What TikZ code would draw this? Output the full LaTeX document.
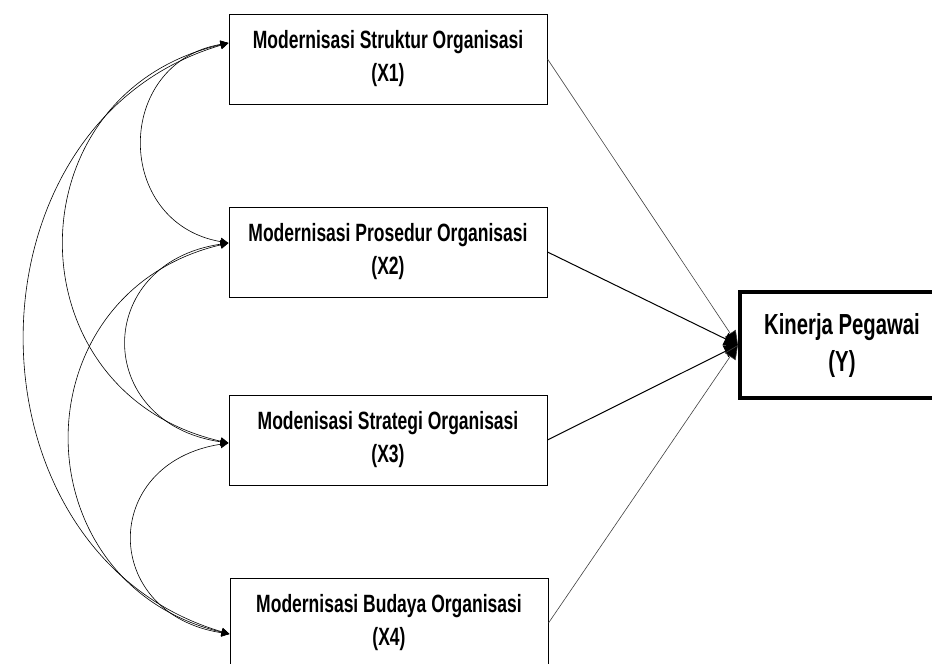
\documentclass[tikz,border=0pt]{standalone}
\usepackage{fontspec}
\setmainfont{Liberation Sans}[FakeStretch=0.7]
\usetikzlibrary{arrows.meta}

\begin{document}
\begin{tikzpicture}[x = 1pt, y = -1pt,
    varbox/.style = {draw, line width = 1pt, minimum width = 318pt, minimum height = 90pt,
        inner sep = 0pt, align = center, font = \fontsize{25}{33}\selectfont\bfseries},
    ybox/.style = {draw, line width = 4pt, minimum width = 204pt, minimum height = 106pt,
        inner sep = 0pt, align = center, font = \fontsize{29}{37}\selectfont\bfseries},
    corr/.style = {line width = 0.6pt,
        {Triangle[length = 8pt, width = 8pt]}-{Triangle[length = 8pt, width = 8pt]}},
    effect/.style = {line width = 0.6pt, black!75, -{Triangle[length = 14pt, width = 13pt, fill = black]}}]
    \clip (0,0) rectangle (932,664);
    \node[varbox] (X1) at (388,59) {Modernisasi Struktur Organisasi\\(X1)};
    \node[varbox] (X2) at (388,252) {Modernisasi Prosedur Organisasi\\(X2)};
    \node[varbox] (X3) at (388,440) {Modenisasi Strategi Organisasi\\(X3)};
    \node[varbox] (X4) at (389,623) {Modernisasi Budaya Organisasi\\(X4)};
    \node[ybox] (Y) at (842,345) {Kinerja Pegawai\\(Y)};
    \coordinate (in1) at ([yshift = 16pt]X1.west);
    \coordinate (in2) at ([yshift = 9pt]X2.west);
    \coordinate (in3) at ([yshift = -3pt]X3.west);
    \coordinate (in4) at ([yshift = -11pt]X4.west);
    % korelasi antar variabel X
    \draw[corr] (in1) .. controls +(-115,20) and +(-115,-20) .. (in2);
    \draw[corr] (in2) .. controls +(-136,20) and +(-136,-20) .. (in3);
    \draw[corr] (in3) .. controls +(-129,20) and +(-129,-20) .. (in4);
    \draw[corr] (in1) .. controls +(-219,50) and +(-219,-50) .. (in3);
    \draw[corr] (in2) .. controls +(-212,50) and +(-212,-50) .. (in4);
    \draw[corr] (in1) .. controls +(-272,80) and +(-272,-80) .. (in4);
    % pengaruh ke Y
    \draw[effect] (X1.east) -- (Y.west);
    \draw[effect, black, line width = 1pt] (X2.east) -- (Y.west);
    \draw[effect, black, line width = 1pt] (X3.east) -- (Y.west);
    \draw[effect] (X4.east) -- (Y.west);
\end{tikzpicture}
\end{document}
